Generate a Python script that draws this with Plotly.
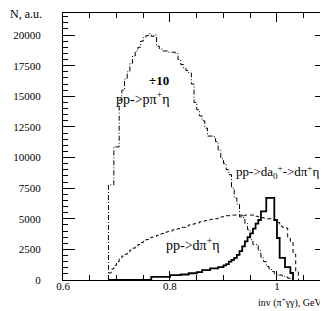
import plotly.graph_objects as go

# ---- data ----
bin_start = 0.685
bin_width = 0.005

# pp -> p pi+ eta  (divided by 10)
p_pi_eta = [7760, 7760, 10870, 10870, 14700, 15500, 16400, 17000, 17700, 18300,
            18700, 19000, 19500, 19800, 19950, 20100, 19900, 20000, 19100, 18900,
            18700, 18700, 18600, 18600, 18600, 18500, 18000, 17600, 17300, 17100,
            16900, 16000, 14500, 13900, 13400, 13000, 12400, 11750, 11750, 11700,
            11300, 10600, 9900, 9500, 9000, 8600, 7500, 6700, 6200, 5300,
            5100, 4600, 4100, 3300, 2900, 2900, 2400, 1800, 1500, 1100,
            900, 700, 500, 400, 400, 300, 250, 150, 100]

# pp -> d pi+ eta
d_pi_eta = [570, 900, 1200, 1500, 1800, 1950, 2100, 2300, 2450, 2600,
            2750, 2900, 3050, 3200, 3300, 3450, 3500, 3550, 3650, 3750,
            3800, 3900, 3950, 4000, 4100, 4150, 4200, 4300, 4300, 4400,
            4500, 4550, 4600, 4650, 4750, 4800, 4850, 4900, 4950, 5000,
            5000, 5100, 5150, 5200, 5250, 5250, 5300, 5300, 5300, 5150,
            5250, 5300, 5300, 5300, 5300, 5200, 5150, 5100, 5050, 5000,
            5000, 4950, 4850, 4700, 4400, 4300, 4250, 3400, 3100, 2100,
            700]

# pp -> d a0+ -> d pi+ eta
d_a0 = [0, 0, 0, 0, 0, 0, 0, 0, 0, 0,
        0, 0, 0, 0, 0, 0, 250, 250, 250, 250,
        250, 250, 250, 400, 400, 400, 400, 450, 450, 450,
        550, 550, 550, 650, 650, 800, 800, 800, 950, 950,
        950, 1050, 1050, 1200, 1300, 1500, 1650, 1800, 2050, 2350,
        2750, 3150, 3500, 3800, 4200, 4600, 4900, 5600, 5600, 6700,
        6700, 6700, 4900, 3430, 1800, 1800, 1050, 1050, 570]

labels = {
    "scale": "÷10",
    "p_pi_eta": "pp->pπ<sup>+</sup>η",
    "d_pi_eta": "pp->dπ<sup>+</sup>η",
    "d_a0": "pp->da<sub>0</sub><sup>+</sup>->dπ<sup>+</sup>η",
}
x_title = "inv (π<sup>+</sup>γγ), GeV/c<sup>2</sup>"
y_title = "N, a.u."


def step_xy(values):
    n = len(values)
    edges = [round(bin_start + bin_width * i, 4) for i in range(n + 1)]
    xs = [edges[0]] + edges
    ys = [0] + list(values) + [0]
    return xs, ys


fig = go.Figure()
for vals, dash, width in [(p_pi_eta, "5px,2px,1px,2px", 1),
                          (d_pi_eta, "4px,3px", 1),
                          (d_a0, "solid", 1.8)]:
    xs, ys = step_xy(vals)
    fig.add_trace(go.Scatter(x=xs, y=ys, mode="lines", line_shape="hv",
                             line=dict(color="black", width=width, dash=dash),
                             showlegend=False, hoverinfo="skip"))

serif = "Times New Roman, Liberation Serif, DejaVu Serif, Noto Serif, serif"
tickfont = dict(family=serif, size=11, color="black")

fig.update_xaxes(range=[0.6, 1.0935], dtick=0.2, tick0=0.6, ticks="inside",
                 ticklen=9, tickwidth=1, tickcolor="black", showline=True,
                 linecolor="black", linewidth=1, mirror="allticks",
                 showgrid=False, zeroline=False, tickfont=tickfont,
                 ticklabelstandoff=-4,
                 minor=dict(dtick=0.05, tick0=0.6, ticks="inside", ticklen=5,
                            tickwidth=1, tickcolor="black", showgrid=False))
fig.update_yaxes(range=[0, 21800], dtick=2500, tick0=0, ticks="inside",
                 ticklen=12, tickwidth=1, tickcolor="black", showline=True,
                 linecolor="black", linewidth=1, mirror="allticks",
                 showgrid=False, zeroline=False, tickfont=tickfont,
                 tickformat="d", ticklabelstandoff=19,
                 minor=dict(dtick=500, tick0=0, ticks="inside", ticklen=5,
                            tickwidth=1, tickcolor="black", showgrid=False))

ann_font = dict(family=serif, size=14, color="black")
fig.add_annotation(x=0.7794, y=16260, text="<b>" + labels["scale"] + "</b>",
                   showarrow=False, font=dict(family=serif, size=13, color="black"))
fig.add_annotation(x=0.7495, y=14900, text=labels["p_pi_eta"], showarrow=False, font=ann_font)
fig.add_annotation(x=0.843, y=2900, text=labels["d_pi_eta"], showarrow=False, font=ann_font)
fig.add_annotation(x=1.0015, y=8800, text=labels["d_a0"], showarrow=False,
                   font=dict(family=serif, size=13, color="black"))

fig.add_annotation(xref="paper", yref="paper", x=-0.2083, y=0.996, xanchor="left",
                   yanchor="middle", text=y_title, showarrow=False,
                   font=dict(family=serif, size=12, color="black"))
fig.add_annotation(xref="paper", yref="paper", x=1.03, y=-0.085, xanchor="right",
                   yanchor="middle", text=x_title, showarrow=False,
                   font=dict(family=serif, size=10, color="black"))

fig.update_layout(width=328, height=311, margin=dict(l=55, r=9, t=5, b=39),
                  paper_bgcolor="white", plot_bgcolor="white")
fig.write_html("out.html")
